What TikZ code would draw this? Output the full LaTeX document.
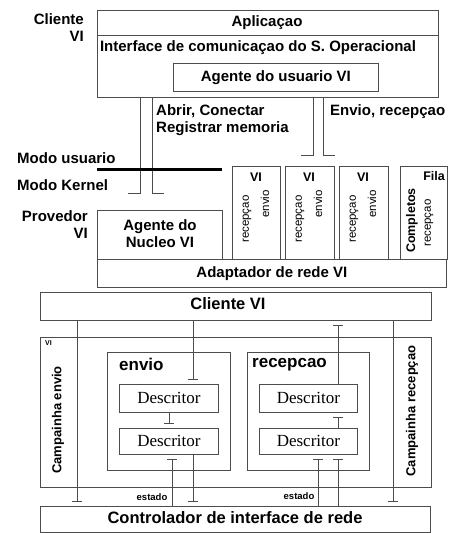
\documentclass[tikz,border=0pt]{standalone}
\usepackage{fontspec}
\setmainfont{Liberation Sans}
\newfontfamily\descfont{Liberation Serif}
\usetikzlibrary{arrows.meta}
\definecolor{lc}{gray}{0.3}
\tikzset{
  box/.style={draw=lc, line width=0.8pt, rectangle, inner sep=0pt, anchor=north west},
  big/.style={font=\bfseries\fontsize{15}{17}\selectfont, inner sep=0pt},
  huge/.style={font=\bfseries\fontsize{16.5}{18}\selectfont, inner sep=0pt},
  small/.style={font=\fontsize{11.5}{13}\selectfont, inner sep=0pt, rotate=90},
  desc/.style={box, font=\descfont\fontsize{17}{19}\selectfont},
  conn/.style={draw=lc, line width=0.7pt, -{Bar[width=10pt,line width=0.8pt]}, shorten >=4pt},
  pipe/.style={draw=lc, line width=0.8pt},
}
\begin{document}
\begin{tikzpicture}[x=1pt,y=-1pt]
\useasboundingbox (0,0) rectangle (448,533);

% ---- user level ----
\node[box, minimum width=341pt, minimum height=87pt] (app) at (97,10) {};
\coordinate (sep) at (0,35);
\draw[draw=lc, line width=0.8pt] (app.west |- sep) -- (app.east |- sep);
\node[big] (aplic) at (267,23) {Aplicaçao};
\node[big] (iface) at (258,48) {Interface de comunicaçao do S. Operacional};
\node[box, minimum width=205pt, minimum height=28pt, big] (uagent) at (173,63) {};
\node[big] at (uagent.center) {Agente do usuario VI};
\node[big, align=right, anchor=north east] (cli) at (84,13) {Cliente\\VI};

% ---- pipes from the user agent down ----
\coordinate (p1a) at (140,193); \coordinate (p1b) at (152,193);
\coordinate (p2a) at (313,155); \coordinate (p2b) at (323,155);
\draw[pipe] (app.south -| p1a) -- (p1a) -- ++(-12,0);
\draw[pipe] (app.south -| p1b) -- (p1b) -- ++(12,0);
\draw[pipe] (app.south -| p2a) -- (p2a) -- ++(-12,0);
\draw[pipe] (app.south -| p2b) -- (p2b) -- ++(12,0);
\node[big, align=left, anchor=north west] (abrir) at (156,104) {Abrir, Conectar\\Registrar memoria};
\node[big, anchor=north west] (envrec) at (330,104) {Envio, recepçao};

% ---- user / kernel boundary ----
\node[big, anchor=west] (musr) at (17,158) {Modo usuario};
\node[big, anchor=west] (mker) at (17,185) {Modo Kernel};
\coordinate (bl) at (97,169); \coordinate (br) at (222,169);
\draw[line width=3pt] (bl) -- (br);

% ---- kernel level ----
\node[big, align=right, anchor=north east] (prov) at (88,210) {Provedor\\VI};
\node[box, minimum width=125pt, minimum height=49pt] (kagent) at (97,210) {};
\node[big, align=center] at (160,234) {Agente do\\Nucleo VI};

\node[box, minimum width=48pt, minimum height=93pt] (q1) at (232,166) {};
\node[box, minimum width=49pt, minimum height=93pt] (q2) at (285,166) {};
\node[box, minimum width=49pt, minimum height=93pt] (q3) at (339,166) {};
\node[box, minimum width=47pt, minimum height=93pt] (q4) at (400,166) {};
\foreach \q/\x in {q1/232,q2/285,q3/339}{
  \node[font=\bfseries\fontsize{12.5}{14}\selectfont, inner sep=0pt] at (\x+24,177) {VI};
  \node[small, anchor=west] at (\x+15,243) {recepçao};
  \node[small, anchor=east] at (\x+33,190) {envio};
}
\node[font=\bfseries\fontsize{12.5}{14}\selectfont, inner sep=0pt, anchor=north east] (fila) at (445,171) {Fila};
\node[small, font=\bfseries\fontsize{12.5}{14}\selectfont, anchor=west] (compl) at (412,253) {Completos};
\node[small, anchor=west] (frec) at (429,247) {recepçao};

\node[box, minimum width=349pt, minimum height=28pt] (adapt) at (97,259) {};
\node[big] at (adapt.center) {Adaptador de rede VI};

% ---- network interface level ----
\node[box, minimum width=391pt, minimum height=28pt] (clv) at (40,292) {};
\node[huge] at (228,304) {Cliente VI};

\node[box, minimum width=391pt, minimum height=150pt] (vi) at (40,337) {};
\node[font=\bfseries\fontsize{7}{8}\selectfont, inner sep=0pt, anchor=north west] at (45,340) {VI};
\node[small, font=\bfseries\fontsize{13}{15}\selectfont] (cenv) at (58,420) {Campainha envio};
\node[small, font=\bfseries\fontsize{13}{15}\selectfont] (crec) at (412,411) {Campainha recepçao};

\node[box, minimum width=123pt, minimum height=118pt] (env) at (107,352) {};
\node[font=\bfseries\fontsize{17}{19}\selectfont, inner sep=0pt, anchor=west] at (119,364) {envio};
\node[box, minimum width=122pt, minimum height=118pt] (rec) at (247,352) {};
\node[font=\bfseries\fontsize{17}{19}\selectfont, inner sep=0pt, anchor=west] at (252,365) {recepcao};

\node[desc, minimum width=99pt, minimum height=28pt] (ed1) at (119,384) {};
\node[desc, minimum width=99pt, minimum height=26pt] (ed2) at (119,428) {};
\node[desc, minimum width=98pt, minimum height=28pt] (rd1) at (259,384) {};
\node[desc, minimum width=98pt, minimum height=26pt] (rd2) at (259,428) {};
\foreach \d in {ed1,ed2,rd1,rd2}{
  \node[font=\descfont\fontsize{17}{19}\selectfont, inner sep=0pt] at (\d.center) {Descritor};
}

\node[box, minimum width=390pt, minimum height=26pt] (ctrl) at (40,506) {};
\node[huge] at (235,518) {Controlador de interface de rede};

% ---- signal lines ----
\coordinate (xa) at (77,0);  \coordinate (xb) at (193,0);
\coordinate (xc) at (169,0); \coordinate (xd) at (172,0);
\coordinate (xe) at (318,0); \coordinate (xf) at (338,0);
\coordinate (xg) at (393,0);
\draw[conn] (clv.south -| xa) -- (ctrl.north -| xa);
\draw[conn] (clv.south -| xb) -- (ed1.north -| xb);
\draw[conn] (ed1.south -| xc) -- (ed2.north -| xc);
\draw[conn] (ed2.south -| xb) -- (ctrl.north -| xb);
\draw[conn] (ctrl.north -| xd) -- (ed2.south -| xd);
\draw[conn] (ctrl.north -| xe) -- (rd2.south -| xe);
\draw[conn] (ctrl.north -| xf) -- (rd2.south -| xf);
\draw[conn] (rd2.north -| xf) -- (rd1.south -| xf);
\draw[conn] (rd1.north -| xf) -- (clv.south -| xf);
\draw[conn] (clv.south -| xg) -- (ctrl.north -| xg);
\node[font=\bfseries\fontsize{9.5}{11}\selectfont, inner sep=0pt] (est1) at (152,497) {estado};
\node[font=\bfseries\fontsize{9.5}{11}\selectfont, inner sep=0pt] (est2) at (299,496) {estado};
\end{tikzpicture}
\end{document}
